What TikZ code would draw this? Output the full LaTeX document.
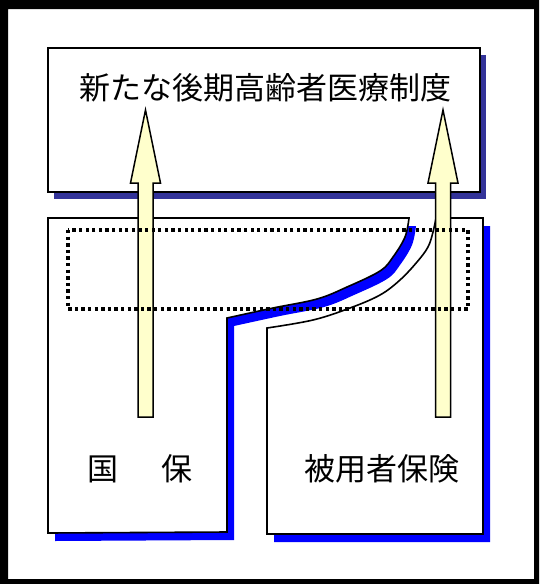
\documentclass[tikz,border=0pt]{standalone}
\usepackage{fontspec}
\newfontfamily\jp{Noto Sans CJK JP}
\definecolor{navyshadow}{RGB}{51,51,153}
\definecolor{blueshadow}{RGB}{0,0,255}
\definecolor{paleyellow}{RGB}{255,255,204}
\tikzset{
  boxline/.style={draw=black, line width=1.6pt, fill=white, line join=miter},
  arrowbody/.style={draw=black, line width=1.5pt, fill=paleyellow, line join=miter},
  jptext/.style={font=\jp\fontsize{31}{31}\selectfont, inner sep=0pt},
  dotframe/.style={draw=black, line width=3.3pt, dash pattern=on 3.3pt off 3.3pt},
  blockarrow/.pic={\path[arrowbody] (-7.5,0) -- (-7.5,-234) -- (-15,-234) -- (0,-307) -- (15,-234) -- (7.5,-234) -- (7.5,0) -- cycle;}
}
\begin{document}
\begin{tikzpicture}[x=1pt,y=-1pt]
\useasboundingbox (0,0) rectangle (539,584);
\fill[white] (0,0) rectangle (539,584);
\fill[black,even odd rule] (0,0) rectangle (539,584) (8,9) rectangle (534,579);

% top box with shadow
\fill[navyshadow] (54,55) rectangle (486,199);
\node[boxline, minimum width=432pt, minimum height=144pt, inner sep=0pt] (topbox) at (264,120) {};
\node[jptext] (title) at (265,88) {新たな後期高齢者医療制度};

% lower left box (国保)
\fill[blueshadow, shift={(7,8)}] (48,218) -- (409,218) -- plot[smooth, tension=0.6] coordinates {(409,218) (405,237) (393,257) (380,271) (347,287) (317,299) (273,308) (227,318)} -- (227,532) -- (48,533) -- cycle;
\path[boxline] (48,218) -- (409,218) -- plot[smooth, tension=0.6] coordinates {(409,218) (405,237) (393,257) (380,271) (347,287) (317,299) (273,308) (227,318)} -- (227,532) -- (48,533) -- cycle;

% lower right box (被用者保険)
\fill[blueshadow, shift={(7,8)}] (436,218) -- (483,218) -- (483,534) -- (267,534) -- (267,328) -- plot[smooth, tension=0.6] coordinates {(267,328) (313,320) (350,308) (380,295) (400,280) (417,262) (428,247) (433,232) (436,218)} -- cycle;
\path[boxline] (436,218) -- (483,218) -- (483,534) -- (267,534) -- (267,328) -- plot[smooth, tension=0.6] coordinates {(267,328) (313,320) (350,308) (380,295) (400,280) (417,262) (428,247) (433,232) (436,218)} -- cycle;

% block arrows
\pic at (145.5,417) {blockarrow};
\pic at (443,417) {blockarrow};

% dotted frame
\path[dotframe] (68,230) rectangle (468,309);

% labels
\node[jptext] (kokuho) at (140,469) {国\hspace{44pt}保};
\node[jptext] (hiyosha) at (382,469) {被用者保険};
\end{tikzpicture}
\end{document}
